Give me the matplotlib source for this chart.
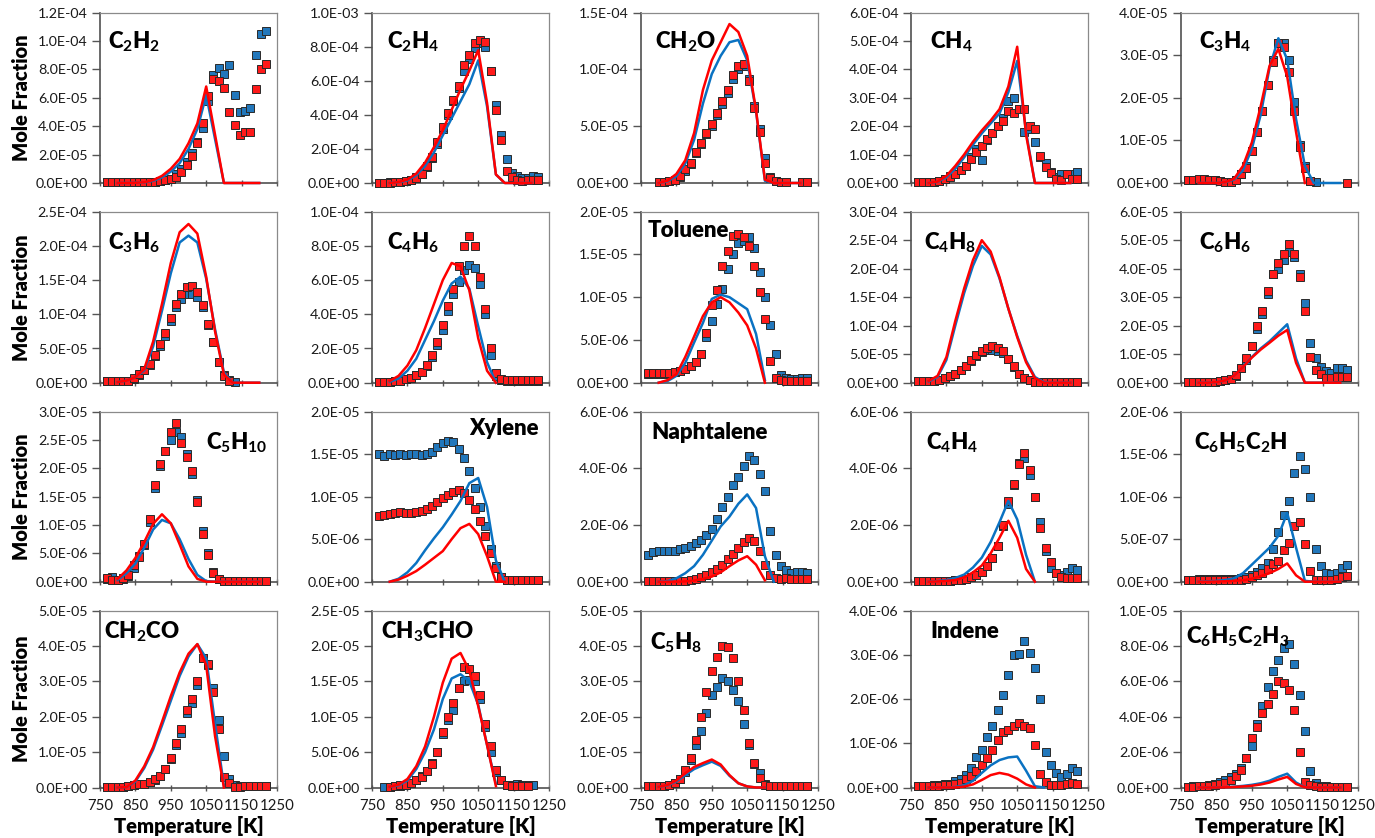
import numpy as np
import matplotlib
matplotlib.use("Agg")
import matplotlib.pyplot as plt
from matplotlib.ticker import FuncFormatter

plt.rcParams['font.family'] = ['Lato', 'DejaVu Sans']
plt.rcParams['mathtext.fontset'] = 'custom'
plt.rcParams['mathtext.rm'] = 'Lato:bold'
plt.rcParams['mathtext.it'] = 'Lato:bold'
plt.rcParams['mathtext.bf'] = 'Lato:bold'
plt.rcParams['mathtext.default'] = 'rm'

nan = float('nan')

# ---------------- data ----------------
T_EXP = [770, 785, 800, 815, 830, 845, 860, 875, 890, 905, 920, 935, 950, 965, 980,
         995, 1010, 1025, 1040, 1055, 1070, 1085, 1100, 1115, 1130, 1145, 1160,
         1175, 1190, 1205, 1220]
T_MOD = [800, 825, 850, 875, 900, 925, 950, 975, 1000, 1025, 1050, 1075, 1100,
         1125, 1150, 1175, 1200]

# C2H2 (x1e-5)
C2H2_EXP_BLUE = [0.05, 0.05, 0.05, 0.1, 0.1, 0.1, 0.1, 0.1, 0.1, 0.1, 0.15, 0.2, 0.3, 0.6, 1.0, 1.5, 2.1, 2.9, 3.9, 5.8, 7.6, 8.1, 7.7, 8.3, 6.2, 5.0, 5.1, 5.3, 9.0, 10.5, 10.7]
C2H2_EXP_RED = [0.05, 0.05, 0.05, 0.05, 0.05, 0.1, 0.1, 0.1, 0.1, 0.1, 0.15, 0.2, 0.25, 0.4, 0.8, 1.3, 1.9, 2.8, 4.2, 6.1, 7.3, 7.2, 6.7, 5.0, 4.1, 3.4, 3.6, 3.6, 6.6, 8.0, 8.4]
C2H2_MOD_BLUE = [0, 0, 0.02, 0.04, 0.15, 0.4, 0.8, 1.4, 2.4, 3.8, 6.2, 3.1, 0, 0, 0, 0, 0]
C2H2_MOD_RED = [0, 0, 0.02, 0.05, 0.2, 0.5, 1.0, 1.7, 2.8, 4.2, 6.8, 3.4, 0, 0, 0, 0, 0]

# C2H4 (x1e-4)
C2H4_EXP_BLUE = [0.02, 0.02, 0.03, 0.04, 0.06, 0.1, 0.18, 0.33, 0.55, 0.95, 1.45, 2.3, 3.2, 4.0, 4.8, 5.6, 6.6, 7.3, 7.9, 8.2, 8.0, 6.6, 4.6, 2.8, 1.4, 0.6, 0.4, 0.3, 0.3, 0.4, 0.35]
C2H4_EXP_RED = [0.02, 0.02, 0.02, 0.03, 0.05, 0.1, 0.18, 0.32, 0.55, 1.0, 1.55, 2.4, 3.3, 4.1, 4.9, 5.7, 6.9, 7.5, 8.2, 8.4, 8.3, 6.6, 4.3, 2.5, 0.7, 0.35, 0.15, 0.12, 0.15, 0.18, 0.18]
C2H4_MOD_BLUE = [0, 0.04, 0.15, 0.45, 1.0, 1.8, 2.8, 3.8, 4.8, 5.8, 7.2, 4.5, 0.5, 0, 0, 0, 0]
C2H4_MOD_RED = [0, 0.05, 0.2, 0.55, 1.2, 2.1, 3.1, 4.3, 5.5, 6.6, 7.8, 4.7, 0.5, 0, 0, 0, 0]

# CH2O (x1e-5)
CH2O_EXP_BLUE = [nan, nan, 0.05, 0.1, 0.15, 0.25, 0.55, 1.1, 1.7, 2.6, 3.4, 4.3, 5.0, 6.0, 7.0, 7.9, 9.2, 10.0, 10.3, 9.2, 6.8, 4.8, 2.2, 0.5, 0.15, 0.05, 0.05, nan, nan, 0.05, 0.05]
CH2O_EXP_RED = [nan, nan, 0.05, 0.1, 0.2, 0.3, 0.6, 1.2, 1.8, 2.7, 3.5, 4.4, 5.2, 6.2, 7.2, 8.2, 9.5, 10.3, 10.5, 9.0, 6.6, 4.5, 1.8, 0.4, 0.15, 0.05, 0.05, nan, nan, 0.05, 0.05]
CH2O_MOD_BLUE = [0, 0.15, 0.6, 1.7, 3.8, 7.0, 9.6, 11.2, 12.4, 12.6, 10.8, 6.3, 0.2, 0, 0, 0, 0]
CH2O_MOD_RED = [0, 0.2, 0.8, 2.0, 4.4, 8.2, 10.8, 12.4, 14.0, 13.3, 11.2, 6.4, 0.3, 0, 0, 0, 0]

# CH4 (x1e-4)
CH4_EXP_BLUE = [0.02, 0.02, 0.03, 0.05, 0.08, 0.15, 0.25, 0.3, 0.45, 0.6, 0.9, 1.2, 0.8, 1.5, 1.75, 2.0, 2.3, 2.9, 3.0, 2.6, 1.8, 1.9, 1.45, 0.9, 0.7, 0.4, 0.2, 0.3, 0.3, 0.33, 0.4]
CH4_EXP_RED = [0.02, 0.02, 0.02, 0.03, 0.08, 0.15, 0.2, 0.3, 0.45, 0.6, 0.85, 1.1, 1.3, 1.55, 1.75, 2.0, 2.2, 2.55, 2.45, 2.6, 2.6, 2.0, 1.9, 0.95, 0.55, 0.35, 0.15, 0.1, 0.3, 0.15, 0.15]
CH4_MOD_BLUE = [0, 0.04, 0.2, 0.5, 0.9, 1.35, 1.75, 2.1, 2.45, 3.2, 4.3, 1.8, 0, 0, 0, 0, 0]
CH4_MOD_RED = [0, 0.05, 0.25, 0.6, 1.0, 1.45, 1.85, 2.2, 2.6, 3.4, 4.8, 1.7, 0, 0, 0, 0, 0]

# C3H4 (x1e-5)
C3H4_EXP_BLUE = [0.07, 0.07, 0.08, 0.08, 0.07, 0.06, 0.05, 0.03, 0.03, 0.08, 0.2, 0.4, 0.75, 1.2, 1.7, 2.3, 2.9, 3.3, 3.3, 2.9, 1.9, 0.9, 0.4, 0.05, 0.02, nan, nan, nan, nan, nan, nan]
C3H4_EXP_RED = [0.08, 0.08, 0.09, 0.09, 0.08, 0.06, 0.04, 0.02, 0.03, 0.08, 0.2, 0.35, 0.75, 1.2, 1.7, 2.3, 2.85, 3.3, 3.2, 2.6, 1.7, 0.85, 0.35, 0.05, nan, nan, nan, nan, nan, nan, 0.0]
C3H4_MOD_BLUE = [0, 0, 0, 0.02, 0.08, 0.3, 0.8, 1.6, 2.7, 3.4, 2.9, 1.5, 0.4, 0, 0, 0, 0]
C3H4_MOD_RED = [0, 0, 0, 0.02, 0.1, 0.4, 0.95, 1.8, 2.75, 3.15, 2.5, 1.2, 0, nan, nan, nan, nan]

# C3H6 (x1e-5)
C3H6_EXP_BLUE = [0.2, 0.2, 0.2, 0.25, 0.3, 0.6, 1.1, 1.8, 2.6, 3.9, 5.4, 6.9, 9.0, 11.0, 12.3, 13.0, 13.0, 12.5, 11.0, 8.5, 6.0, 3.0, 1.1, 0.4, 0.1, nan, nan, nan, nan, nan, nan]
C3H6_EXP_RED = [0.2, 0.2, 0.2, 0.25, 0.3, 0.7, 1.2, 1.9, 2.7, 4.1, 5.7, 7.2, 9.4, 11.5, 13.0, 14.0, 14.2, 13.2, 11.4, 8.6, 6.0, 3.0, 1.0, 0.3, nan, nan, nan, nan, nan, nan, nan]
C3H6_MOD_BLUE = [0.1, 0.3, 0.8, 1.8, 5.3, 10.5, 16.0, 20.5, 21.5, 20.5, 15.2, 7.8, 1.5, 0, 0, 0, 0]
C3H6_MOD_RED = [0.1, 0.3, 0.8, 2.0, 6.0, 11.5, 17.5, 22.0, 23.2, 21.8, 15.5, 7.5, 1.2, 0, 0, 0, 0]

# C4H6 (x1e-5)
C4H6_EXP_BLUE = [0.05, 0.05, 0.06, 0.08, 0.1, 0.2, 0.3, 0.45, 0.65, 1.0, 1.5, 2.2, 3.1, 4.2, 5.2, 5.9, 6.6, 6.9, 6.7, 5.8, 4.0, 1.6, 0.4, 0.15, 0.1, 0.1, 0.1, 0.1, 0.1, 0.1, 0.1]
C4H6_EXP_RED = [0.05, 0.05, 0.06, 0.08, 0.1, 0.2, 0.3, 0.45, 0.65, 1.05, 1.6, 2.4, 3.4, 4.5, 5.5, 6.8, 8.0, 8.55, 8.0, 6.2, 4.3, 2.0, 0.55, 0.2, 0.15, 0.15, 0.15, 0.15, 0.15, 0.15, 0.15]
C4H6_MOD_BLUE = [0.05, 0.25, 0.7, 1.4, 2.5, 3.6, 4.8, 5.8, 6.2, 5.5, 3.3, 1.2, 0, nan, nan, nan, nan]
C4H6_MOD_RED = [0.1, 0.4, 1.0, 1.9, 3.2, 4.6, 6.0, 7.0, 6.8, 5.4, 2.6, 0.7, 0, nan, nan, nan, nan]

# Toluene (x1e-6)
TOL_EXP_BLUE = [1.0, 1.0, 1.0, 1.0, 1.1, 1.2, 1.4, 1.6, 1.9, 2.4, 3.3, 5.4, 7.2, 9.2, 11.0, 13.3, 15.0, 16.3, 16.6, 17.0, 15.7, 13.0, 10.0, 6.8, 3.3, 0.9, 0.5, 0.4, 0.4, 0.5, 0.5]
TOL_EXP_RED = [1.1, 1.1, 1.1, 1.1, 1.15, 1.25, 1.4, 1.6, 1.9, 2.4, 3.4, 5.8, 9.1, 10.8, 13.6, 15.4, 17.1, 17.35, 17.0, 16.0, 13.6, 10.6, 7.4, 2.5, 0.5, 0.3, 0.2, 0.2, 0.2, 0.2, 0.2]
TOL_MOD_BLUE = [0, 0.2, 0.8, 2.3, 4.7, 7.0, 9.8, 10.3, 10.0, 9.3, 8.6, 5.7, 0.3, nan, nan, nan, nan]
TOL_MOD_RED = [0, 0.3, 1.0, 3.0, 5.4, 7.8, 9.4, 10.0, 9.4, 8.2, 6.7, 4.0, 0, nan, nan, nan, nan]

# C4H8 (x1e-5)
C4H8_EXP_BLUE = [0.3, 0.3, 0.3, 0.35, 0.5, 0.8, 1.15, 1.6, 2.2, 2.9, 3.8, 4.7, 5.3, 5.7, 5.8, 5.6, 5.2, 4.1, 2.8, 1.6, 0.8, 0.4, 0.2, 0.1, 0.1, 0.1, 0.1, 0.1, 0.1, 0.1, 0.1]
C4H8_EXP_RED = [0.3, 0.3, 0.3, 0.35, 0.5, 0.8, 1.15, 1.6, 2.2, 3.0, 3.9, 4.9, 5.6, 6.1, 6.4, 6.0, 5.5, 4.2, 2.9, 1.6, 0.8, 0.4, 0.2, 0.1, 0.1, 0.1, 0.1, 0.1, 0.1, 0.1, 0.1]
C4H8_MOD_BLUE = [0.2, 1.0, 4.0, 10.0, 15.7, 20.5, 24.0, 22.5, 18.3, 13.0, 8.2, 3.9, 1.0, 0.1, 0, 0, 0]
C4H8_MOD_RED = [0.3, 1.2, 4.5, 10.8, 16.5, 21.5, 25.0, 23.0, 18.5, 13.0, 8.0, 3.6, 0.8, 0, 0, 0, 0]

# C6H6 (x1e-5)
C6H6_EXP_BLUE = [0.02, 0.02, 0.02, 0.02, 0.02, 0.03, 0.05, 0.08, 0.13, 0.25, 0.5, 0.8, 1.3, 1.9, 2.4, 3.1, 3.8, 4.0, 4.3, 4.6, 4.4, 3.8, 2.8, 1.4, 0.85, 0.55, 0.4, 0.35, 0.5, 0.5, 0.45]
C6H6_EXP_RED = [0.02, 0.02, 0.02, 0.02, 0.02, 0.03, 0.05, 0.08, 0.13, 0.26, 0.5, 0.85, 1.3, 2.0, 2.5, 3.2, 3.8, 4.2, 4.5, 4.85, 4.5, 3.7, 2.5, 0.9, 0.45, 0.3, 0.15, 0.15, 0.2, 0.2, 0.2]
C6H6_MOD_BLUE = [0, 0, 0.02, 0.08, 0.25, 0.55, 0.9, 1.2, 1.45, 1.75, 2.05, 0.85, 0, 0, 0, 0, 0]
C6H6_MOD_RED = [0, 0, 0.02, 0.08, 0.25, 0.55, 0.88, 1.16, 1.4, 1.65, 1.85, 0.7, 0, 0, 0, 0, 0]

# C5H10 (x1e-6)
C5H10_EXP_BLUE = [0.5, 0.9, 0.3, 0.5, 1.0, 2.5, 4.5, 6.5, 10.5, 16.5, 20.5, 23.0, 25.0, 26.5, 25.5, 22.5, 19.0, 14.5, 9.0, 5.0, 1.8, 0.5, 0.2, 0.2, 0.2, 0.2, 0.2, 0.2, 0.2, 0.2, 0.2]
C5H10_EXP_RED = [0.6, 0.3, 0.3, 0.6, 1.1, 2.9, 4.3, 6.6, 11.0, 17.0, 20.8, 23.0, 26.5, 28.0, 24.5, 22.0, 19.5, 14.0, 8.5, 4.7, 1.6, 0.4, 0.2, 0.2, 0.2, 0.2, 0.2, 0.2, 0.2, 0.2, 0.2]
C5H10_MOD_BLUE = [0.3, 1.5, 3.2, 6.0, 9.2, 10.9, 10.3, 7.5, 4.0, 1.2, 0.1, 0, 0, 0, 0, 0, 0]
C5H10_MOD_RED = [0.5, 2.0, 4.2, 7.0, 10.2, 11.9, 10.3, 6.6, 2.7, 0.5, 0, 0, 0, 0, 0, 0, 0]

# Xylene (x1e-6)
XYL_EXP_BLUE = [15.0, 14.8, 15.0, 14.9, 15.0, 14.9, 15.0, 15.0, 14.9, 15.0, 15.3, 15.8, 16.3, 16.5, 16.4, 15.6, 14.5, 13.0, 11.0, 8.8, 6.6, 3.8, 1.8, 0.5, 0.2, 0.15, 0.15, 0.15, 0.15, 0.15, 0.15]
XYL_EXP_RED = [7.7, 7.9, 8.0, 8.1, 8.2, 8.1, 8.1, 8.2, 8.3, 8.5, 8.9, 9.4, 9.8, 10.2, 10.5, 10.8, 10.4, 9.6, 8.6, 7.1, 5.4, 3.4, 1.6, 0.5, 0.2, 0.15, 0.15, 0.15, 0.15, 0.15, 0.15]
XYL_MOD_BLUE = [0, 0.35, 1.1, 2.2, 3.7, 5.1, 6.4, 7.9, 9.5, 11.6, 12.2, 8.8, 2.5, 0, nan, nan, nan]
XYL_MOD_RED = [0, 0.25, 0.7, 1.25, 2.0, 2.8, 3.6, 5.0, 6.3, 6.8, 5.6, 3.0, 0, 0, nan, nan, nan]

# Naphtalene (x1e-6)
NAP_EXP_BLUE = [0.96, 1.05, 1.08, 1.1, 1.07, 1.1, 1.15, 1.2, 1.26, 1.35, 1.47, 1.65, 1.86, 2.2, 2.65, 3.0, 3.4, 3.7, 4.1, 4.45, 4.3, 3.8, 3.2, 1.8, 0.95, 0.55, 0.4, 0.3, 0.33, 0.35, 0.3]
NAP_EXP_RED = [0.03, 0.03, 0.03, 0.03, 0.03, 0.03, 0.04, 0.04, 0.05, 0.09, 0.15, 0.23, 0.33, 0.45, 0.6, 0.8, 0.98, 1.2, 1.4, 1.55, 1.42, 1.1, 0.6, 0.25, 0.14, 0.1, 0.12, 0.1, 0.1, 0.1, 0.1]
NAP_MOD_BLUE = [0, 0.02, 0.12, 0.3, 0.55, 0.95, 1.45, 1.95, 2.3, 2.75, 3.08, 2.6, 0.9, 0, nan, nan, nan]
NAP_MOD_RED = [0, 0, 0, 0.01, 0.04, 0.1, 0.18, 0.33, 0.55, 0.75, 0.9, 0.6, 0.05, nan, nan, nan, nan]

# C4H4 (x1e-6)
C4H4_EXP_BLUE = [0.02, 0.02, 0.02, 0.02, 0.02, 0.03, 0.04, 0.05, 0.07, 0.1, 0.15, 0.22, 0.33, 0.55, 0.85, 1.25, 1.95, 2.75, 3.4, 4.2, 4.35, 3.75, 3.0, 2.1, 1.1, 0.5, 0.3, 0.25, 0.35, 0.47, 0.4]
C4H4_EXP_RED = [0.02, 0.02, 0.02, 0.02, 0.02, 0.03, 0.04, 0.05, 0.07, 0.1, 0.15, 0.22, 0.34, 0.55, 0.85, 1.25, 2.0, 2.85, 3.45, 4.15, 4.55, 3.95, 3.0, 1.9, 1.2, 0.7, 0.3, 0.15, 0.12, 0.13, 0.14]
C4H4_MOD_BLUE = [0, 0.02, 0.06, 0.13, 0.25, 0.5, 0.85, 1.4, 2.1, 2.85, 2.2, 0.95, 0, nan, nan, nan, nan]
C4H4_MOD_RED = [0, 0.01, 0.03, 0.06, 0.15, 0.33, 0.57, 1.0, 1.55, 2.15, 1.55, 0.45, 0, nan, nan, nan, nan]

# C6H5C2H (x1e-7)
PHA_EXP_BLUE = [0.2, 0.25, 0.3, 0.3, 0.3, 0.3, 0.3, 0.3, 0.3, 0.35, 0.4, 0.6, 0.8, 1.1, 1.6, 2.2, 3.8, 5.8, 7.8, 9.5, 12.8, 14.8, 13.3, 10.0, 3.8, 1.8, 1.0, 0.9, 1.0, 1.6, 2.0]
PHA_EXP_RED = [0.2, 0.2, 0.2, 0.2, 0.2, 0.2, 0.2, 0.2, 0.2, 0.2, 0.2, 0.3, 0.5, 0.8, 1.0, 1.5, 2.1, 2.4, 3.7, 4.5, 6.5, 7.0, 4.4, 1.3, 0.25, 0.2, 0.2, 0.2, 0.3, 0.5, 0.65]
PHA_MOD_BLUE = [0, 0.05, 0.1, 0.2, 0.4, 1.0, 2.0, 3.0, 4.0, 5.4, 8.1, 4.0, 0.1, 0, 0, 0, 0]
PHA_MOD_RED = [0, 0, 0.02, 0.05, 0.1, 0.17, 0.35, 0.65, 1.0, 1.5, 2.15, 0.75, 0, 0, 0, 0, 0]

# CH2CO (x1e-6)
CH2CO_EXP_BLUE = [0.2, 0.2, 0.2, 0.2, 0.3, 0.6, 0.9, 1.1, 1.5, 2.2, 3.2, 5.2, 8.0, 12.0, 15.5, 21.0, 24.0, 29.0, 36.5, 34.5, 28.0, 19.0, 9.0, 2.5, 0.8, 0.4, 0.4, 0.4, 0.5, 0.5, 0.4]
CH2CO_EXP_RED = [0.2, 0.2, 0.2, 0.2, 0.3, 0.65, 0.9, 1.1, 1.6, 2.3, 3.2, 5.3, 8.3, 12.5, 16.5, 22.0, 25.0, 30.0, 36.5, 35.0, 27.0, 16.5, 3.0, 1.2, 0.2, 0.2, 0.3, 0.3, 0.4, 0.4, 0.3]
CH2CO_MOD_BLUE = [0, 0.1, 1.7, 5.5, 10.7, 17.5, 24.5, 31.5, 37.0, 40.5, 36.5, 18.0, 0.5, nan, nan, nan, nan]
CH2CO_MOD_RED = [0, 0.1, 2.0, 6.0, 11.4, 18.5, 25.8, 32.5, 37.8, 40.5, 34.5, 14.5, 0, nan, nan, nan, nan]

# CH3CHO (x1e-6)
CH3CHO_EXP_BLUE = [nan, 0.1, 0.1, 0.2, 0.2, 0.4, 0.7, 1.0, 1.6, 2.4, 3.5, 5.0, 7.5, 9.5, 11.0, 14.0, 15.0, 15.2, 15.0, 12.5, 8.5, 5.0, 2.2, 1.0, 0.3, 0.3, 0.5, 0.4, 0.3, 0.4, nan]
CH3CHO_EXP_RED = [nan, nan, 0.1, 0.2, 0.3, 0.4, 0.6, 1.0, 1.5, 2.3, 3.3, 5.0, 7.8, 10.0, 12.0, 14.0, 17.0, 16.8, 15.8, 13.0, 9.0, 5.8, 2.5, 1.0, 0.3, 0.2, 0.2, 0.2, 0.2, nan, nan]
CH3CHO_MOD_BLUE = [0.1, 0.3, 1.0, 2.6, 5.0, 8.2, 12.5, 15.4, 16.0, 15.0, 11.7, 6.0, 0.5, nan, nan, nan, nan]
CH3CHO_MOD_RED = [0.1, 0.4, 1.2, 3.0, 5.8, 10.0, 14.8, 18.2, 19.0, 16.5, 11.5, 6.0, 0.2, nan, nan, nan, nan]

# C5H8 (x1e-6)
C5H8_EXP_BLUE = [0.4, 0.4, 0.4, 0.5, 0.6, 1.2, 2.3, 4.5, 7.8, 12.0, 16.0, 21.0, 26.0, 28.5, 30.8, 30.0, 27.5, 24.5, 17.8, 12.0, 6.5, 4.0, 0.9, 0.5, 0.5, 0.5, 0.5, 0.5, 0.5, 0.5, 0.5]
C5H8_EXP_RED = [0.4, 0.4, 0.45, 0.5, 0.7, 1.3, 2.5, 5.0, 8.3, 13.5, 19.8, 27.0, 33.0, 37.0, 40.0, 39.8, 36.5, 30.0, 22.0, 12.5, 7.0, 2.8, 0.7, 0.5, 0.5, 0.5, 0.5, 0.5, 0.5, 0.5, 0.5]
C5H8_MOD_BLUE = [0.2, 0.6, 1.7, 3.5, 5.2, 6.3, 7.3, 6.1, 3.3, 1.2, 0.3, 0, 0, nan, nan, nan, nan]
C5H8_MOD_RED = [0.2, 0.7, 2.0, 4.0, 5.8, 6.9, 7.9, 6.5, 3.5, 1.2, 0.3, 0, 0, nan, nan, nan, nan]

# Indene (x1e-6)
IND_EXP_BLUE = [0.04, 0.04, 0.04, 0.05, 0.06, 0.07, 0.09, 0.14, 0.2, 0.28, 0.45, 0.68, 0.84, 1.15, 1.4, 1.75, 2.1, 2.55, 3.0, 3.02, 3.3, 3.05, 2.7, 2.0, 0.8, 0.5, 0.32, 0.24, 0.3, 0.45, 0.38]
IND_EXP_RED = [0.04, 0.04, 0.04, 0.04, 0.04, 0.05, 0.05, 0.07, 0.1, 0.2, 0.26, 0.37, 0.5, 0.66, 0.85, 1.08, 1.25, 1.3, 1.38, 1.45, 1.4, 1.35, 0.95, 0.3, 0.12, 0.05, 0.05, 0.05, 0.07, 0.1, 0.09]
IND_MOD_BLUE = [0, 0, 0, 0.01, 0.05, 0.15, 0.33, 0.5, 0.62, 0.68, 0.7, 0.38, 0.03, 0, nan, nan, nan]
IND_MOD_RED = [0, 0, 0, 0, 0.02, 0.07, 0.17, 0.28, 0.33, 0.29, 0.2, 0.07, 0, nan, nan, nan, nan]

# C6H5C2H3 (x1e-6)
STY_EXP_BLUE = [0.05, 0.07, 0.08, 0.1, 0.13, 0.19, 0.3, 0.45, 0.6, 0.75, 1.1, 1.65, 2.35, 3.6, 4.6, 5.7, 6.6, 7.2, 7.9, 8.1, 7.0, 5.2, 3.2, 0.95, 0.25, 0.1, 0.07, 0.05, 0.05, 0.05, 0.05]
STY_EXP_RED = [0.04, 0.05, 0.06, 0.07, 0.1, 0.14, 0.2, 0.28, 0.42, 0.65, 0.98, 1.65, 2.8, 3.4, 4.2, 4.7, 5.3, 6.0, 5.93, 5.5, 4.4, 2.0, 0.3, 0.15, 0.08, 0.05, 0.05, 0.05, 0.05, 0.05, 0.05]
STY_MOD_BLUE = [0, 0, 0.01, 0.02, 0.05, 0.09, 0.15, 0.24, 0.38, 0.6, 0.78, 0.28, 0.02, 0, 0, 0, 0]
STY_MOD_RED = [0, 0, 0, 0.01, 0.03, 0.06, 0.1, 0.17, 0.28, 0.45, 0.6, 0.2, 0.01, 0, 0, 0, 0]

LABELS = [r'C$_{2}$H$_{2}$', r'C$_{2}$H$_{4}$', r'CH$_{2}$O', r'CH$_{4}$', r'C$_{3}$H$_{4}$',
          r'C$_{3}$H$_{6}$', r'C$_{4}$H$_{6}$', 'Toluene', r'C$_{4}$H$_{8}$', r'C$_{6}$H$_{6}$',
          r'C$_{5}$H$_{10}$', 'Xylene', 'Naphtalene', r'C$_{4}$H$_{4}$', r'C$_{6}$H$_{5}$C$_{2}$H',
          r'CH$_{2}$CO', r'CH$_{3}$CHO', r'C$_{5}$H$_{8}$', 'Indene', r'C$_{6}$H$_{5}$C$_{2}$H$_{3}$']
Y_MAX = [1.2e-4, 1.0e-3, 1.5e-4, 6.0e-4, 4.0e-5,
         2.5e-4, 1.0e-4, 2.0e-5, 3.0e-4, 6.0e-5,
         3.0e-5, 2.0e-5, 6.0e-6, 6.0e-6, 2.0e-6,
         5.0e-5, 2.5e-5, 5.0e-5, 4.0e-6, 1.0e-5]
Y_NTICK = [6, 5, 3, 6, 4,
           5, 5, 4, 6, 6,
           6, 4, 3, 3, 4,
           5, 5, 5, 4, 5]
SCALE = [1e-5, 1e-4, 1e-5, 1e-4, 1e-5,
         1e-5, 1e-5, 1e-6, 1e-5, 1e-5,
         1e-6, 1e-6, 1e-6, 1e-6, 1e-7,
         1e-6, 1e-6, 1e-6, 1e-6, 1e-6]
EXP_BLUE = [C2H2_EXP_BLUE, C2H4_EXP_BLUE, CH2O_EXP_BLUE, CH4_EXP_BLUE, C3H4_EXP_BLUE,
            C3H6_EXP_BLUE, C4H6_EXP_BLUE, TOL_EXP_BLUE, C4H8_EXP_BLUE, C6H6_EXP_BLUE,
            C5H10_EXP_BLUE, XYL_EXP_BLUE, NAP_EXP_BLUE, C4H4_EXP_BLUE, PHA_EXP_BLUE,
            CH2CO_EXP_BLUE, CH3CHO_EXP_BLUE, C5H8_EXP_BLUE, IND_EXP_BLUE, STY_EXP_BLUE]
EXP_RED = [C2H2_EXP_RED, C2H4_EXP_RED, CH2O_EXP_RED, CH4_EXP_RED, C3H4_EXP_RED,
           C3H6_EXP_RED, C4H6_EXP_RED, TOL_EXP_RED, C4H8_EXP_RED, C6H6_EXP_RED,
           C5H10_EXP_RED, XYL_EXP_RED, NAP_EXP_RED, C4H4_EXP_RED, PHA_EXP_RED,
           CH2CO_EXP_RED, CH3CHO_EXP_RED, C5H8_EXP_RED, IND_EXP_RED, STY_EXP_RED]
MOD_BLUE = [C2H2_MOD_BLUE, C2H4_MOD_BLUE, CH2O_MOD_BLUE, CH4_MOD_BLUE, C3H4_MOD_BLUE,
            C3H6_MOD_BLUE, C4H6_MOD_BLUE, TOL_MOD_BLUE, C4H8_MOD_BLUE, C6H6_MOD_BLUE,
            C5H10_MOD_BLUE, XYL_MOD_BLUE, NAP_MOD_BLUE, C4H4_MOD_BLUE, PHA_MOD_BLUE,
            CH2CO_MOD_BLUE, CH3CHO_MOD_BLUE, C5H8_MOD_BLUE, IND_MOD_BLUE, STY_MOD_BLUE]
MOD_RED = [C2H2_MOD_RED, C2H4_MOD_RED, CH2O_MOD_RED, CH4_MOD_RED, C3H4_MOD_RED,
           C3H6_MOD_RED, C4H6_MOD_RED, TOL_MOD_RED, C4H8_MOD_RED, C6H6_MOD_RED,
           C5H10_MOD_RED, XYL_MOD_RED, NAP_MOD_RED, C4H4_MOD_RED, PHA_MOD_RED,
           CH2CO_MOD_RED, CH3CHO_MOD_RED, C5H8_MOD_RED, IND_MOD_RED, STY_MOD_RED]
X_TICKS = [750, 850, 950, 1050, 1150, 1250]

# ---------------- layout / style ----------------
W, H = 1375, 838
COL_LEFT = [100, 372, 641, 911, 1181]
PANEL_W = 177
ROW_TOP = [12.7, 211.7, 411.7, 610.5]
ROW_BOT = [183.0, 382.7, 581.7, 787.5]
LABEL_POS = [(0.045, 0.83), (0.086, 0.83), (0.08, 0.83), (0.11, 0.83), (0.10, 0.83),
             (0.045, 0.82), (0.086, 0.82), (0.035, 0.89), (0.075, 0.82), (0.10, 0.82),
             (0.60, 0.82), (0.55, 0.90), (0.057, 0.875), (0.085, 0.82), (0.073, 0.82),
             (0.02, 0.88), (0.05, 0.88), (0.05, 0.82), (0.11, 0.88), (0.03, 0.85)]

BLUE_M = '#2277BB'
RED_M = '#FF1A1A'
BLUE_L = '#0A72C2'
RED_L = '#FF0000'
EDGE = '#2a2a2a'
TXT = '#1a1a1a'

fig = plt.figure(figsize=(W / 100, H / 100), dpi=100)
fmt = FuncFormatter(lambda v, p: f"{v:.1E}")

for i in range(20):
    r, c = divmod(i, 5)
    top, bot = ROW_TOP[r], ROW_BOT[r]
    ax = fig.add_axes([COL_LEFT[c] / W, 1 - bot / H, PANEL_W / W, (bot - top) / H])
    s = SCALE[i]
    eb = np.array(EXP_BLUE[i], dtype=float) * s
    er = np.array(EXP_RED[i], dtype=float) * s
    mb = np.array(MOD_BLUE[i], dtype=float) * s
    mr = np.array(MOD_RED[i], dtype=float) * s
    assert len(eb) == len(T_EXP) and len(er) == len(T_EXP), i
    assert len(mb) == len(T_MOD) and len(mr) == len(T_MOD), i

    ax.plot(T_EXP, eb, 's', ms=5.5, mfc=BLUE_M, mec=EDGE, mew=0.7, zorder=3, clip_on=False)
    ax.plot(T_EXP, er, 's', ms=5.5, mfc=RED_M, mec=EDGE, mew=0.7, zorder=3.1, clip_on=False)
    ax.plot(T_MOD, mb, '-', color=BLUE_L, lw=1.8, zorder=4, clip_on=False)
    ax.plot(T_MOD, mr, '-', color=RED_L, lw=1.8, zorder=4.1, clip_on=False)

    ymax = Y_MAX[i]
    ax.set_xlim(750, 1250)
    ax.set_ylim(0, ymax)
    ax.set_yticks(np.linspace(0, ymax, Y_NTICK[i] + 1))
    ax.yaxis.set_major_formatter(fmt)
    ax.set_xticks(X_TICKS)
    ax.tick_params(axis='y', direction='out', length=6, width=1.0, pad=3,
                   labelsize=10.3, colors='#555555', labelcolor=TXT)
    ax.tick_params(axis='x', direction='inout', length=5, width=1.0, pad=6,
                   labelsize=10.8, colors='#555555', labelcolor=TXT,
                   labelbottom=(r == 3))
    for side in ('top', 'right'):
        ax.spines[side].set_color('#8a8a8a')
        ax.spines[side].set_linewidth(0.9)
    for side in ('left', 'bottom'):
        ax.spines[side].set_color('#505050')
        ax.spines[side].set_linewidth(1.2)
    ax.set_facecolor('white')
    lx, ly = LABEL_POS[i]
    ax.text(lx, ly, LABELS[i], transform=ax.transAxes, ha='left', va='center',
            fontsize=16, fontweight='heavy', color='black', zorder=6)

    if c == 0:
        yc = 1 - (top + bot) / 2 / H
        fig.text(22 / W, yc, 'Mole Fraction', rotation=90, ha='center', va='center',
                 fontsize=14.5, fontweight='heavy', color='black')
    if r == 3:
        xc = (COL_LEFT[c] + PANEL_W / 2) / W
        fig.text(xc, 1 - 826 / H, 'Temperature [K]', ha='center', va='center',
                 fontsize=14.5, fontweight='heavy', color='black')

fig.savefig('out.png', dpi=100, facecolor='white')
